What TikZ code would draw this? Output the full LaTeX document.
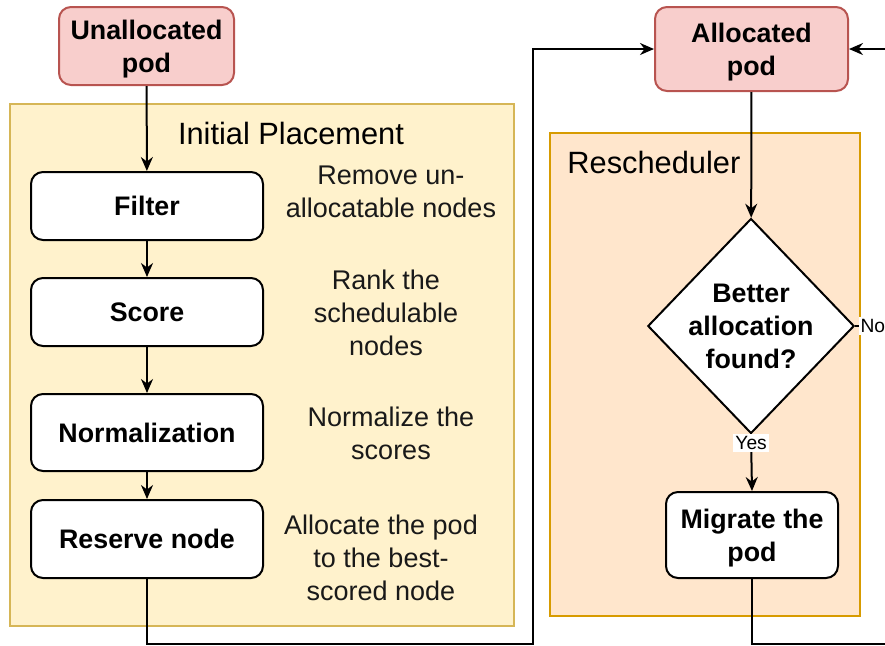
\documentclass[tikz,border=0pt]{standalone}
\usepackage{fontspec}
\setmainfont{Liberation Sans}
\usetikzlibrary{shapes.geometric,arrows.meta}

\definecolor{podfill}{HTML}{F8CECC}
\definecolor{podline}{HTML}{B85450}
\definecolor{initfill}{HTML}{FFF2CC}
\definecolor{initline}{HTML}{D6B656}
\definecolor{reschfill}{HTML}{FFE6CC}
\definecolor{reschline}{HTML}{D79B00}

\tikzset{
    boxfont/.style={font=\bfseries\fontsize{13.4}{16.5}\selectfont},
    pod/.style={draw=podline, fill=podfill, line width=1pt, rounded corners=6pt,
        align=center, text depth=0pt, boxfont},
    stepbox/.style={draw, fill=white, line width=1pt, rounded corners=6pt,
        minimum width=116pt, align=center, boxfont},
    group/.style={line width=1pt},
    note/.style={align=center, text=black!90, font=\fontsize{13.5}{16.5}\selectfont},
    title/.style={font=\fontsize{15.4}{18}\selectfont},
    decision/.style={diamond, draw, fill=white, line width=1pt, inner sep=0pt,
        shape aspect=0.96, align=center, boxfont},
    flow/.style={line width=1pt, -{Stealth[length=7pt,width=6pt]}},
    lbl/.style={fill=white, inner sep=1pt, font=\fontsize{9.6}{12}\selectfont}
}

\begin{document}
\begin{tikzpicture}[x=0.5pt, y=-0.5pt]
    \useasboundingbox (0,0) rectangle (885,645);

    % containers
    \node[group, draw=initline, fill=initfill, minimum width=252pt, minimum height=261pt]
        (initial) at (262,365) {};
    \node[title] (initialtitle) at (291,133) {Initial Placement};
    \node[group, draw=reschline, fill=reschfill, minimum width=155pt, minimum height=241.5pt]
        (resched) at (705,374.5) {};
    \node[title, anchor=west, inner sep=0pt] (reschtitle) at (567,162) {Rescheduler};

    % pods
    \node[pod, minimum width=87.5pt, minimum height=39pt] (unalloc) at (146.5,46) {Unallocated\\pod};
    \node[pod, minimum width=96.5pt, minimum height=42pt, text depth=-1.5pt] (alloc) at (751.5,49) {Allocated\\pod};

    % initial placement steps
    \node[stepbox, minimum height=34pt] (filter) at (147,206) {Filter};
    \node[stepbox, minimum height=34pt] (score) at (147,312) {Score};
    \node[stepbox, minimum height=38.5pt] (norm) at (147,432.5) {Normalization};
    \node[stepbox, minimum height=39pt] (reserve) at (147,539) {Reserve node};

    \node[note] (filternote) at (391,192) {Remove un-\\allocatable nodes};
    \node[note] (scorenote) at (386,313) {Rank the\\schedulable\\nodes};
    \node[note] (normnote) at (391,433) {Normalize the\\scores};
    \node[note] (reservenote) at (381,558) {Allocate the pod\\to the best-\\scored node};

    % rescheduler
    \node[decision] (better) at (751,326) {Better\\allocation\\found?};
    \node[stepbox, minimum width=86pt, minimum height=43pt, text depth=0pt] (migrate) at (752,535) {Migrate the\\pod};

    \coordinate (lowleft) at (533,644);
    \coordinate (lowright) at (920,644);
    \coordinate (upright) at (920,49);

    % connectors
    \draw[flow] (unalloc) -- (filter);
    \draw[flow] (filter) -- (score);
    \draw[flow] (score) -- (norm);
    \draw[flow] (norm) -- (reserve);
    \draw[flow] (reserve.south) |- (lowleft) |- (alloc.west);
    \draw[flow] (alloc) -- (better);
    \draw[flow] (better.south) -- (migrate.north) node[lbl, pos=0.15] {Yes};
    \draw[line width=1pt] (better.east) -- ++(80,0) node[lbl, anchor=west, pos=0.03] {No};
    \draw[flow] (migrate.south) |- (lowright) -- (upright) -- (alloc.east);
\end{tikzpicture}
\end{document}
